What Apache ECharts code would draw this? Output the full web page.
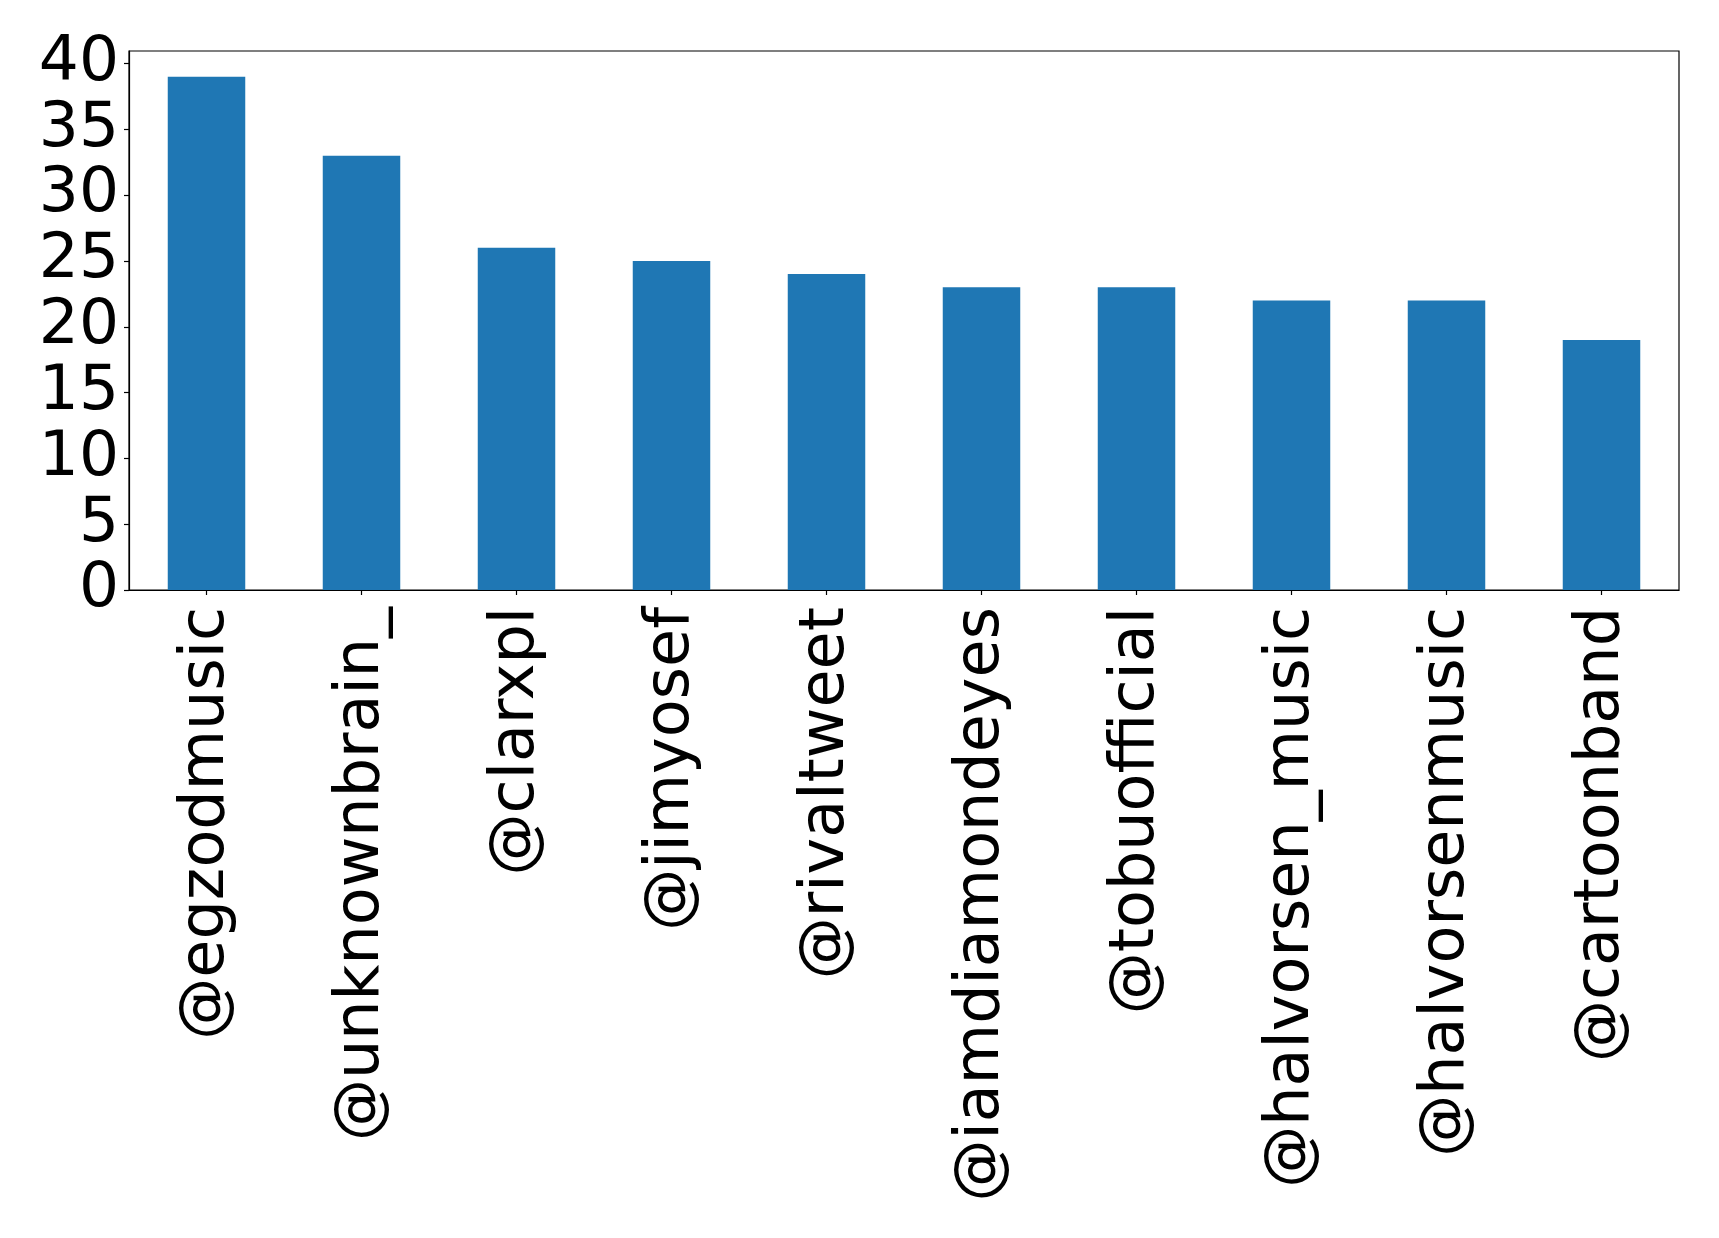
<!DOCTYPE html>
<html>
<head>
<meta charset="utf-8">
<script src="https://cdn.jsdelivr.net/npm/echarts@6/dist/echarts.min.js"></script>
<style>
html,body{margin:0;padding:0;background:#fff;}
#chart{width:1719px;height:1238px;}
</style>
</head>
<body>
<div id="chart"></div>
<script>
const categories = ['@egzodmusic','@unknownbrain_','@clarxpl','@jimyosef','@rivaltweet','@iamdiamondeyes','@tobuofficial','@halvorsen_music','@halvorsenmusic','@cartoonband'];
const values = [39, 33, 26, 25, 24, 23, 23, 22, 22, 19];
const yTicks = [0, 5, 10, 15, 20, 25, 30, 35, 40];

const chart = echarts.init(document.getElementById('chart'), null, {renderer: 'canvas'});
const font = 'DejaVu Sans';
chart.setOption({
  animation: false,
  backgroundColor: '#ffffff',
  grid: {
    left: 129, right: 40, top: 51, bottom: 648,
    show: true, borderColor: '#000', borderWidth: 1.2, backgroundColor: 'transparent'
  },
  xAxis: {
    type: 'category',
    data: categories,
    boundaryGap: true,
    axisLine: {show: true, lineStyle: {color: '#000', width: 1.2}},
    axisTick: {show: true, alignWithLabel: true, length: 5, lineStyle: {color: '#000', width: 1.2}},
    axisLabel: {rotate: 90, margin: 17, interval: 0, color: '#000', fontFamily: font, fontSize: 62}
  },
  yAxis: {
    type: 'value',
    min: 0,
    max: 40.95,
    interval: 5,
    splitLine: {show: false},
    axisLine: {show: true, lineStyle: {color: '#000', width: 1.2}},
    axisTick: {show: true, length: 5, customValues: yTicks, lineStyle: {color: '#000', width: 1.2}},
    axisLabel: {margin: 10, color: '#000', fontFamily: font, fontSize: 63, customValues: yTicks, padding: [10, 0, 0, 0]}
  },
  series: [{
    type: 'bar',
    data: values,
    barWidth: '50%',
    itemStyle: {color: '#1f77b4'}
  }]
});
</script>
</body>
</html>
